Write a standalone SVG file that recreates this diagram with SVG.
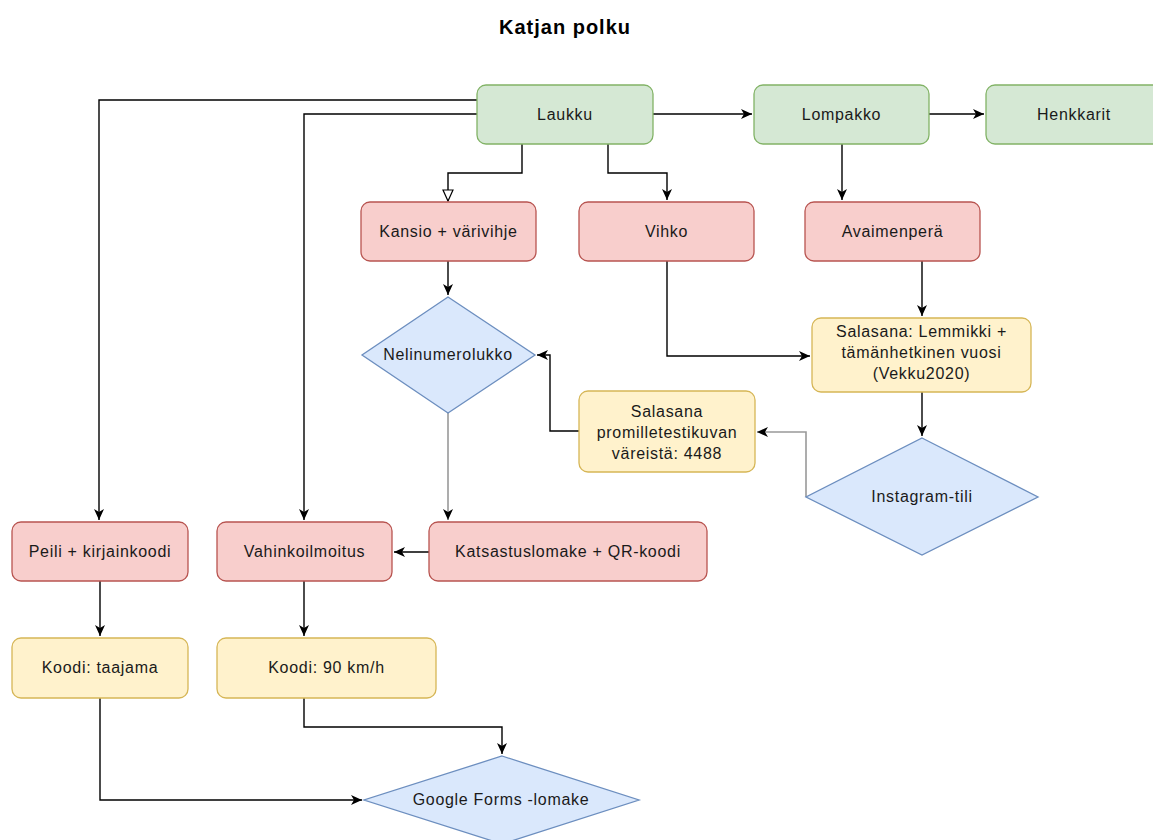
<svg xmlns="http://www.w3.org/2000/svg" width="1153" height="840" viewBox="0 0 1153 840">
<defs>
<style>
.g{fill:#d5e8d4;stroke:#82b366;stroke-width:1.3}
.r{fill:#f8cecc;stroke:#b85450;stroke-width:1.3}
.y{fill:#fff2cc;stroke:#d6b656;stroke-width:1.3}
.b{fill:#dae8fc;stroke:#6c8ebf;stroke-width:1.3}
text{font-family:"Liberation Sans",Arial,Helvetica,sans-serif;font-size:16px;letter-spacing:0.7px;fill:#1a1a1a;text-anchor:middle}
.t{font-size:20px;font-weight:bold;letter-spacing:1px;fill:#000}
.c{fill:none;stroke:#000;stroke-width:1.4}
.cg{fill:none;stroke:#999;stroke-width:1.6}
</style>
<marker id="a" markerUnits="userSpaceOnUse" markerWidth="12" markerHeight="10" refX="11" refY="5" orient="auto">
<path d="M0,0 L11,5 L0,10 L3,5 Z" fill="#000"/>
</marker>
<marker id="h" markerUnits="userSpaceOnUse" markerWidth="14" markerHeight="12" refX="12" refY="6" orient="auto">
<path d="M1,1 L12,6 L1,11 Z" fill="#fff" stroke="#000" stroke-width="1.2"/>
</marker>
</defs>
<rect width="1153" height="840" fill="#fff"/>
<text class="t" x="565" y="34">Katjan polku</text>
<g id="connectors">
<path class="c" d="M477,100 H99 V520" marker-end="url(#a)"/>
<path class="c" d="M477,114 H304 V520" marker-end="url(#a)"/>
<path class="c" d="M653,114 H752" marker-end="url(#a)"/>
<path class="c" d="M929,114 H984" marker-end="url(#a)"/>
<path class="c" d="M522,144 V173 H448 V201" marker-end="url(#h)"/>
<path class="c" d="M608,144 V173 H667 V200" marker-end="url(#a)"/>
<path class="c" d="M842,144 V200" marker-end="url(#a)"/>
<path class="c" d="M448,261 V295" marker-end="url(#a)"/>
<path class="c" d="M922,261 V316" marker-end="url(#a)"/>
<path class="c" d="M667,261 V356 H810" marker-end="url(#a)"/>
<path class="c" d="M922,392 V436" marker-end="url(#a)"/>
<path class="cg" d="M806,497 V432 H757" marker-end="url(#a)"/>
<path class="c" d="M579,431 H550 V355 H537" marker-end="url(#a)"/>
<path class="cg" d="M448,413 V520" marker-end="url(#a)"/>
<path class="c" d="M429,552 H394" marker-end="url(#a)"/>
<path class="c" d="M100,581 V636" marker-end="url(#a)"/>
<path class="c" d="M304,581 V636" marker-end="url(#a)"/>
<path class="c" d="M304,698 V727 H502 V754" marker-end="url(#a)"/>
<path class="c" d="M100,698 V800 H362" marker-end="url(#a)"/>
</g>
<g id="laukku"><rect class="g" x="477" y="85" width="176" height="59" rx="9"/><text x="565" y="120">Laukku</text></g>
<g id="lompakko"><rect class="g" x="754" y="85" width="175" height="59" rx="9"/><text x="841.5" y="120">Lompakko</text></g>
<g id="henkkarit"><rect class="g" x="986" y="85" width="176" height="59" rx="9"/><text x="1074" y="120">Henkkarit</text></g>
<g id="kansio"><rect class="r" x="361" y="202" width="175" height="59" rx="9"/><text x="448.5" y="237">Kansio + värivihje</text></g>
<g id="vihko"><rect class="r" x="579" y="202" width="175" height="59" rx="9"/><text x="666.5" y="237">Vihko</text></g>
<g id="avaimenpera"><rect class="r" x="805" y="202" width="175" height="59" rx="9"/><text x="892.5" y="237">Avaimenperä</text></g>
<g id="nelinumerolukko"><polygon class="b" points="448,297 535,355 448,413 362,355"/><text x="448" y="360">Nelinumerolukko</text></g>
<g id="salasana-lemmikki"><rect class="y" x="812" y="318" width="219" height="74" rx="9"/><text x="921.5" y="337">Salasana: Lemmikki +</text><text x="921.5" y="358">tämänhetkinen vuosi</text><text x="921.5" y="379">(Vekku2020)</text></g>
<g id="salasana-promille"><rect class="y" x="579" y="391" width="176" height="81" rx="9"/><text x="667" y="417">Salasana</text><text x="667" y="438">promilletestikuvan</text><text x="667" y="459">väreistä: 4488</text></g>
<g id="instagram"><polygon class="b" points="922,438 1038,497 922,555 806,497"/><text x="922" y="502">Instagram-tili</text></g>
<g id="peili"><rect class="r" x="12" y="522" width="176" height="59" rx="9"/><text x="100" y="557">Peili + kirjainkoodi</text></g>
<g id="vahinkoilmoitus"><rect class="r" x="217" y="522" width="175" height="59" rx="9"/><text x="304.5" y="557">Vahinkoilmoitus</text></g>
<g id="katsastuslomake"><rect class="r" x="429" y="522" width="278" height="59" rx="9"/><text x="568" y="557">Katsastuslomake + QR-koodi</text></g>
<g id="koodi-taajama"><rect class="y" x="12" y="638" width="176" height="60" rx="9"/><text x="100" y="673">Koodi: taajama</text></g>
<g id="koodi-90"><rect class="y" x="217" y="638" width="219" height="60" rx="9"/><text x="326.5" y="673">Koodi: 90 km/h</text></g>
<g id="google-forms"><polygon class="b" points="502,756 639,800 502,844 364,800"/><text x="501" y="805">Google Forms -lomake</text></g>
</svg>
